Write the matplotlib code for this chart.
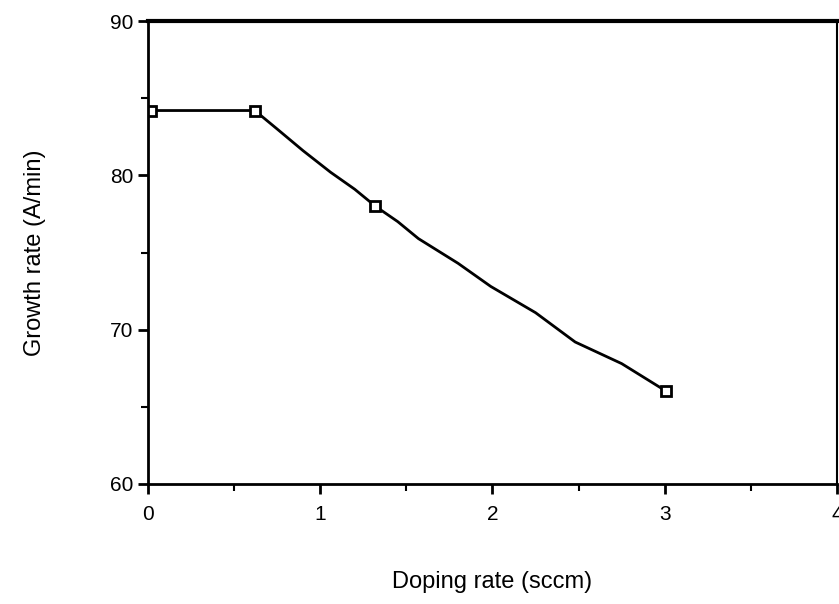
import matplotlib
matplotlib.use("Agg")
import matplotlib.pyplot as plt
from matplotlib.ticker import MultipleLocator

# measured points
dope = [0.02, 0.62, 1.32, 3.01]
growth = [84.2, 84.2, 78.0, 66.0]
# hand-drawn curve through them
curve_x = [0.02, 0.62, 0.75, 0.9, 1.06, 1.2, 1.32, 1.45, 1.57, 1.8, 1.99, 2.25, 2.48, 2.75, 3.01]
curve_y = [84.2, 84.2, 83.0, 81.6, 80.2, 79.1, 78.0, 77.0, 75.9, 74.3, 72.8, 71.1, 69.2, 67.8, 66.0]

plt.rcParams["font.family"] = ["Liberation Sans", "DejaVu Sans"]
fig = plt.figure(figsize=(8.39, 6.04), dpi=100)
ax = fig.add_axes([0.1764, 0.1987, 0.8212, 0.7665])

ax.plot(curve_x, curve_y, color="black", lw=2)
ax.plot(dope, growth, ls="none", marker="s", ms=7, mfc="white", mec="black", mew=2)

ax.set_xlim(0, 4)
ax.set_ylim(60, 90)
ax.xaxis.set_major_locator(MultipleLocator(1))
ax.xaxis.set_minor_locator(MultipleLocator(0.5))
ax.yaxis.set_major_locator(MultipleLocator(10))
ax.yaxis.set_minor_locator(MultipleLocator(5))
ax.tick_params(which="major", direction="out", length=7, width=2, labelsize=15, color="black")
ax.tick_params(which="minor", direction="out", length=5, width=1.5)
ax.tick_params(axis="x", pad=8)
for s in ax.spines.values():
    s.set_linewidth(2)
ax.spines["top"].set_linewidth(3)
ax.spines["right"].set_linewidth(1.5)

ax.set_xlabel("Doping rate (sccm)", fontsize=17, labelpad=34)
ax.set_ylabel("Growth rate (A/min)", fontsize=17, labelpad=46)

fig.savefig("out.png", dpi=100)
